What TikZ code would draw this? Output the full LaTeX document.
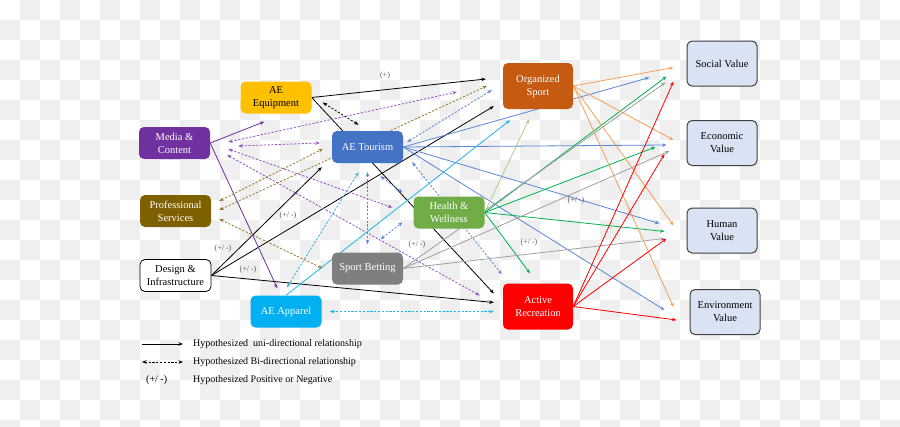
\documentclass[tikz,border=0pt]{standalone}
\usepackage{fontspec}
\setmainfont{Liberation Serif}
\usetikzlibrary{arrows.meta,calc}

\definecolor{checker}{RGB}{239,239,239}
\definecolor{equipY}{RGB}{255,192,0}
\definecolor{mediaP}{RGB}{112,48,160}
\definecolor{tourB}{RGB}{68,114,196}
\definecolor{profB}{RGB}{127,96,0}
\definecolor{hwG}{RGB}{112,173,71}
\definecolor{betG}{RGB}{127,127,127}
\definecolor{appC}{RGB}{0,176,240}
\definecolor{orgO}{RGB}{197,90,17}
\definecolor{actR}{RGB}{255,0,0}
\definecolor{valfill}{RGB}{218,227,243}
\definecolor{valline}{RGB}{64,64,64}
\definecolor{purpleln}{RGB}{150,80,200}
\definecolor{brownln}{RGB}{150,120,40}
\definecolor{blueln}{RGB}{90,135,215}
\definecolor{cyanln}{RGB}{30,180,240}
\definecolor{greenln}{RGB}{0,176,80}
\definecolor{lgreenln}{RGB}{169,209,142}
\definecolor{grayln}{RGB}{160,160,160}
\definecolor{orangeln}{RGB}{244,160,90}
\definecolor{signgray}{RGB}{89,89,89}

\pgfdeclarelayer{back}
\pgfdeclarelayer{wires}
\pgfsetlayers{back,wires,main}

\tikzset{
  factorbox/.style={rounded corners=5pt, minimum width=71pt, minimum height=32pt, inner sep=1pt,
    align=center, font=\fontsize{10.5}{13}\selectfont, text=white},
  hubbox/.style={factorbox, minimum width=70pt, minimum height=46pt},
  valuebox/.style={factorbox, minimum width=70pt, minimum height=45pt, fill=valfill,
    draw=valline, line width=1pt, text=black},
  uniarr/.style={-{Stealth[length=4.5pt,width=3.5pt]}, line width=0.8pt},
  biarr/.style={{Stealth[length=4.5pt,width=3.5pt]}-{Stealth[length=4.5pt,width=3.5pt]}, line width=0.8pt,
    dash pattern=on 2.2pt off 1.6pt},
  signlbl/.style={font=\fontsize{8}{9}\selectfont, text=signgray, inner sep=0pt},
  legtext/.style={font=\fontsize{10}{11}\selectfont, inner sep=0pt, anchor=west},
}

\begin{document}
\begin{tikzpicture}[x=1pt, y=-1pt]
\useasboundingbox (0,0) rectangle (900,426);

% checkered backdrop
\begin{pgfonlayer}{back}
\fill[white] (0,0) rectangle (900,426);
\clip (0,0) rectangle (900,426);
\foreach \r in {0,...,21}{
  \pgfmathtruncatemacro\xs{20*(1-mod(\r,2))}
  \pgfmathtruncatemacro\xn{\xs+40}
  \foreach \c in {\xs,\xn,...,880} \fill[checker] (\c,20*\r) rectangle ++(20,20);
}
\end{pgfonlayer}

% drivers
\node[factorbox, fill=equipY, text=black] (equip) at (276,97.5) {AE\\Equipment};
\node[factorbox, fill=mediaP] (media) at (174.5,143) {Media \&\\Content};
\node[factorbox, fill=tourB] (tour) at (367.5,147) {AE Tourism};
\node[factorbox, fill=profB] (prof) at (175.5,211) {Professional\\Services};
\node[factorbox, fill=hwG] (hw) at (449,212.5) {Health \&\\Wellness};
\node[factorbox, fill=white, draw=black, line width=0.8pt, text=black] (design) at (175.5,275.5) {Design \&\\Infrastructure};
\node[factorbox, fill=betG] (bet) at (367.5,268.5) {Sport Betting};
\node[factorbox, fill=appC] (app) at (286,311.5) {AE Apparel};
\node[hubbox, fill=orgO] (org) at (538,86) {Organized\\Sport};
\node[hubbox, fill=actR] (act) at (538,306.5) {Active\\Recreation};

% values
\node[valuebox] (soc) at (722,63.5) {Social Value};
\node[valuebox] (eco) at (722,143) {Economic\\Value};
\node[valuebox] (hum) at (722,230.5) {Human\\Value};
\node[valuebox] (env) at (725,312) {Environment\\Value};

% signs
\node[signlbl] (s1) at (385,76) {(+)};
\node[signlbl] (s2) at (288,216) {(+/ -)};
\node[signlbl] (s3) at (223,249) {(+/ -)};
\node[signlbl] (s4) at (248,270) {(+/ -)};
\node[signlbl] (s5) at (417,245) {(+/ -)};
\node[signlbl] (s6) at (529,243) {(+/ -)};
\node[signlbl] (s7) at (576,201) {(+/ -)};

\begin{pgfonlayer}{wires}
% black
\draw[uniarr, black] (equip.east) -- ($(org.west)+(-17,-7)$);
\draw[uniarr, black] (equip.east) -- ($(act.west)+(-9,-13)$);
\draw[uniarr, black] (design.east) -- ($(tour.south west)+(-10,4)$);
\draw[uniarr, black] (design.east) -- ($(org.south west)+(-9,-3)$);
\draw[uniarr, black] (design.east) -- ($(act.west)+(-9,-4)$);
\draw[biarr, black] ($(equip.east)+(11,5)$) -- ($(tour.north)+(-9,-6)$);
% media
\draw[uniarr, mediaP] (media.east) -- ($(equip.south west)+(24,8)$);
\draw[uniarr, mediaP] (media.east) -- ($(app.north west)+(27,-7)$);
\draw[biarr, purpleln] ($(media.east)+(18,-1)$) -- ($(org.west)+(-46,6)$);
\draw[biarr, purpleln] ($(media.east)+(28,3)$) -- ($(tour.west)+(-12,-4)$);
\draw[biarr, purpleln] ($(media.east)+(18,6)$) -- ($(hw.west)+(-21,-5)$);
\draw[biarr, purpleln] ($(media.east)+(17,12)$) -- ($(act.west)+(-23,-11)$);
% professional
\draw[biarr, brownln] ($(prof.east)+(8,-10)$) -- ($(tour.west)+(-9,2)$);
\draw[biarr, brownln] ($(prof.east)+(8,-1)$) -- ($(org.west)+(-16,0)$);
\draw[biarr, brownln] ($(prof.east)+(8,8)$) -- ($(bet.west)+(-9,0)$);
% tourism
\draw[uniarr, blueln] (tour.east) -- ($(soc.west)+(-37,14)$);
\draw[uniarr, blueln] (tour.east) -- ($(eco.west)+(-20,2)$);
\draw[uniarr, blueln] (tour.east) -- ($(hum.west)+(-27,-7)$);
\draw[uniarr, blueln] (tour.east) -- ($(env.west)+(-25,-2)$);
\draw[biarr, blueln] ($(tour.east)+(4,-5)$) -- ($(org.west)+(-11,4)$);
\draw[biarr, blueln] ($(tour.south east)+(9,-1)$) -- ($(act.north west)+(-1,-9)$);
\draw[biarr, blueln] ($(tour.south)+(13,13)$) -- ($(hw.north west)+(-11,-4)$);
\draw[biarr, blueln] ($(tour.south)+(0,9)$) -- ($(bet.north)+(0,-8)$);
\draw[biarr, blueln] ($(bet.north)+(13,-13)$) -- ($(hw.west)+(-11,10)$);
% apparel
\draw[uniarr, cyanln] (app.north) -- ($(org.south)+(-28,11)$);
\draw[biarr, cyanln] ($(app.north)+(1,-8)$) -- ($(tour.south)+(-9,9)$);
\draw[biarr, cyanln] ($(app.east)+(8,0)$) -- ($(act.west)+(-9,5)$);
% health
\draw[uniarr, lgreenln] (hw.east) -- ($(org.south)+(-9,10)$);
\draw[uniarr, greenln] (hw.east) -- ($(soc.west)+(-20,13)$);
\draw[uniarr, greenln] (hw.east) -- ($(eco.west)+(-31,4)$);
\draw[uniarr, greenln] (hw.east) -- ($(hum.west)+(-22,1)$);
\draw[uniarr, greenln] (hw.east) -- ($(act.north)+(-8,-10)$);
% betting
\draw[uniarr, grayln] (bet.east) -- ($(soc.west)+(-21,19)$);
\draw[uniarr, grayln] (bet.east) -- ($(eco.west)+(-17,8)$);
\draw[uniarr, grayln] (bet.east) -- ($(hum.west)+(-22,8)$);
% organized sport
\draw[uniarr, orangeln] (org.east) -- ($(soc.west)+(-13,4)$);
\draw[uniarr, orangeln] (org.east) -- ($(eco.west)+(-13,-3)$);
\draw[uniarr, orangeln] (org.east) -- ($(hum.west)+(-13,-5)$);
\draw[uniarr, orangeln] (org.east) -- ($(env.west)+(-16,-5)$);
% active recreation
\draw[uniarr, actR] (act.east) -- ($(soc.west)+(-13,18)$);
\draw[uniarr, actR] (act.east) -- ($(eco.west)+(-22,11)$);
\draw[uniarr, actR] (act.east) -- ($(hum.west)+(-20,8)$);
\draw[uniarr, actR] (act.east) -- ($(env.west)+(-13,8)$);
\end{pgfonlayer}

% legend
\coordinate (l1a) at (142,344);
\coordinate (l1b) at (183,344);
\coordinate (l2a) at (142,362);
\coordinate (l2b) at (183,362);
\draw[uniarr, black] (l1a) -- (l1b);
\draw[biarr, black] (l2a) -- (l2b);
\node[legtext] (l1t) at (193,344) {Hypothesized\ \ uni-directional relationship};
\node[legtext] (l2t) at (193,362) {Hypothesized Bi-directional relationship};
\node[legtext] (l3s) at (146,380) {(+/ -)};
\node[legtext] (l3t) at (193,380) {Hypothesized Positive or Negative};
\end{tikzpicture}
\end{document}
